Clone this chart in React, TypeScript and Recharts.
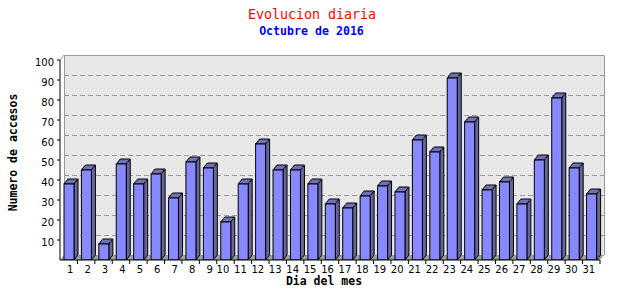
import React from 'react';
import { BarChart, Bar, XAxis, YAxis, CartesianGrid, ReferenceArea, Customized } from 'recharts';

const days: string[] = ['1','2','3','4','5','6','7','8','9','10','11','12','13','14','15','16','17','18','19','20','21','22','23','24','25','26','27','28','29','30','31'];
const visits: number[] = [38,45,8,48,38,43,31,49,46,19,38,58,45,45,38,28,26,32,37,34,60,54,91,69,35,39,28,50,81,46,33];
const yTicks: number[] = [10,20,30,40,50,60,70,80,90,100];

const chartTitle = 'Evolucion diaria';
const chartSubtitle = 'Octubre de 2016';
const xTitle = 'Dia del mes';
const yTitle = 'Numero de accesos';

const data = days.map((d, i) => ({ day: d, visits: visits[i] }));

const DX = 4;
const DY = 5;
const MONO = '"DejaVu Sans Mono", "Liberation Mono", monospace';
const SANS = '"DejaVu Sans", sans-serif';

const Bar3D = (props: any) => {
  const { x, y, width, height } = props;
  if (height == null || width == null) return null;
  return (
    <g>
      <polygon
        points={`${x},${y} ${x + DX},${y - DY} ${x + width + DX},${y - DY} ${x + width},${y}`}
        fill="#7070b4" stroke="#000" strokeWidth={1}
      />
      <polygon
        points={`${x + width},${y} ${x + width + DX},${y - DY} ${x + width + DX},${y + height - DY} ${x + width},${y + height}`}
        fill="#66669c" stroke="#000" strokeWidth={1}
      />
      <rect x={x} y={y} width={width} height={height} fill="#8888ff" stroke="#000" strokeWidth={1} />
    </g>
  );
};

const Wall = (props: any) => {
  const { x, y, width, height } = props;
  const bx = x + DX;
  const by = y - DY;
  return (
    <g>
      <rect x={bx} y={by} width={width} height={height} fill="#e8e8e8" stroke="none" />
      <polygon
        points={`${x},${y + height} ${bx},${by + height} ${bx + width},${by + height} ${x + width},${y + height}`}
        fill="#a0a0a0"
      />
      <polyline
        points={`${bx + 0.5},${by + height} ${bx + 0.5},${by + 0.5} ${bx + width + 0.5},${by + 0.5} ${bx + width + 0.5},${by + height}`}
        fill="none" stroke="#999" strokeWidth={1}
      />
      <line x1={x} y1={y} x2={bx} y2={by} stroke="#999" strokeWidth={1} />
    </g>
  );
};

const GridLine = (props: any) => {
  const { x1, y1, x2, y2, index } = props;
  const yy1 = Math.round(y1 - DY) + 0.5;
  const yy2 = Math.round(y2 - DY) + 0.5;
  return (
    <line
      key={`gl-${index}`}
      x1={x1 + DX} y1={yy1} x2={x2 + DX} y2={yy2}
      stroke="#9a9a9a" strokeWidth={1} strokeDasharray="5 3"
    />
  );
};

const XTick = (props: any) => {
  const { x, y, payload, width, visibleTicksCount } = props;
  const half = payload && payload.offset != null ? payload.offset : (width / (visibleTicksCount || 31)) / 2;
  const label = String(payload.value);
  const dx = label.length === 1 ? 1.5 : -2.5;
  return (
    <g>
      <line x1={x + half} y1={y} x2={x + half} y2={y + 4} stroke="#000" strokeWidth={1} />
      <text x={x + dx} y={y + 9} textAnchor="middle" dominantBaseline="central" fontFamily={SANS} fontSize={10} fill="#000">
        {label}
      </text>
    </g>
  );
};

const YTick = (props: any) => {
  const { x, y, payload } = props;
  return (
    <text x={x} y={y + 2.5} textAnchor="end" dominantBaseline="central" fontFamily={SANS} fontSize={10} fill="#000">
      {payload.value}
    </text>
  );
};

const Titles = () => (
  <g>
    <text x={312} y={14} textAnchor="middle" dominantBaseline="central" fontFamily={MONO} fontSize={13.3} fill="#ff0000">
      {chartTitle}
    </text>
    <text x={311.5} y={31} textAnchor="middle" dominantBaseline="central" fontFamily={MONO} fontSize={11.6} fontWeight="bold" fill="#0000ff">
      {chartSubtitle}
    </text>
    <text x={324} y={281} textAnchor="middle" dominantBaseline="central" fontFamily={MONO} fontSize={11.5} fontWeight="bold" fill="#000">
      {xTitle}
    </text>
    <text x={12.5} y={152.5} textAnchor="middle" dominantBaseline="central" fontFamily={MONO} fontSize={11.5} fontWeight="bold" fill="#000" transform="rotate(-90 12.5 152.5)">
      {yTitle}
    </text>
  </g>
);

export default function App() {
  return (
    <div style={{ position: 'fixed', left: 0, top: 0, width: 640, height: 300, background: '#fff' }}>
      <BarChart width={640} height={300} data={data} margin={{ top: 60, right: 40, bottom: 0, left: 0 }} barSize={10}>
        <ReferenceArea y1={0} y2={100} yAxisId={0} xAxisId={0} shape={Wall} ifOverflow="visible" zIndex={-200} />
        <CartesianGrid vertical={false} horizontal={GridLine} />
        <XAxis
          dataKey="day"
          interval={0}
          tickSize={0}
          tickMargin={0}
          tickLine={false}
          axisLine={{ stroke: '#000' }}
          height={40}
          tick={XTick}
        />
        <YAxis
          type="number"
          domain={[0, 100]}
          ticks={yTicks}
          interval={0}
          allowDataOverflow
          width={60}
          tickSize={3}
          tickMargin={3}
          tickLine={{ stroke: '#000' }}
          axisLine={{ stroke: '#000' }}
          tick={YTick}
        />
        <Bar dataKey="visits" shape={Bar3D} isAnimationActive={false} />
        <Customized component={Titles} />
      </BarChart>
    </div>
  );
}
